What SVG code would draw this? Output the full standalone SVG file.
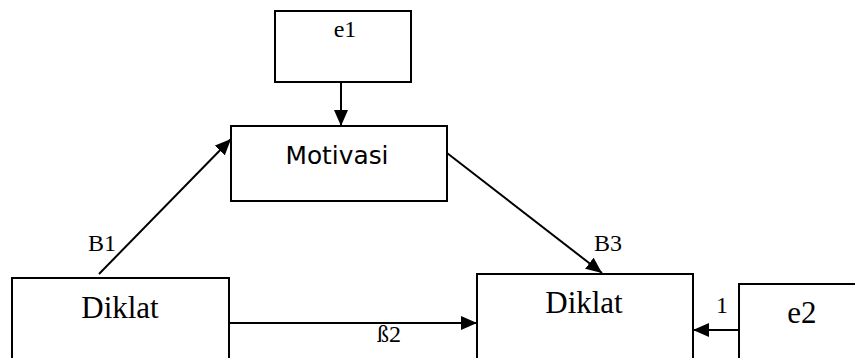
<svg xmlns="http://www.w3.org/2000/svg" width="855" height="358" viewBox="0 0 855 358">
<style>
.box{fill:#fff;stroke:#000;stroke-width:2}
.ln{stroke:#000;stroke-width:2;fill:none;marker-end:url(#ah)}
.serif{font-family:"Liberation Serif","Times New Roman",serif;fill:#000}
.sans{font-family:"DejaVu Sans",Verdana,sans-serif;fill:#000}
</style>
<defs>
<marker id="ah" markerUnits="userSpaceOnUse" markerWidth="16" markerHeight="14" viewBox="0 0 16 14" refX="16" refY="7" orient="auto">
<path d="M0,0 L16,7 L0,14 z" fill="#000"/>
</marker>
</defs>
<rect width="855" height="358" fill="#fff"/>
<g id="connectors">
<line class="ln" x1="341" y1="82" x2="341" y2="126"/>
<line class="ln" x1="99" y1="274" x2="231" y2="139"/>
<line class="ln" x1="447" y1="153" x2="602" y2="273"/>
<line class="ln" x1="229" y1="323" x2="477" y2="323"/>
<line class="ln" x1="739" y1="330" x2="693" y2="330"/>
</g>
<g id="e1">
<rect class="box" x="275" y="11" width="136" height="71"/>
<text class="serif" x="345" y="37" font-size="24" text-anchor="middle">e1</text>
</g>
<g id="motivasi">
<rect class="box" x="231" y="126" width="216" height="75"/>
<text class="sans" x="337" y="164" font-size="24" text-anchor="middle" textLength="103" lengthAdjust="spacingAndGlyphs">Motivasi</text>
</g>
<g id="diklat1">
<rect class="box" x="12" y="278" width="217" height="100"/>
<text class="serif" x="120" y="318" font-size="31" text-anchor="middle">Diklat</text>
</g>
<g id="diklat2">
<rect class="box" x="477" y="274" width="216" height="100"/>
<text class="serif" x="584" y="313" font-size="31" text-anchor="middle">Diklat</text>
</g>
<g id="e2">
<rect class="box" x="739" y="284" width="130" height="100"/>
<text class="serif" x="802" y="323" font-size="31" text-anchor="middle">e2</text>
</g>
<g id="labels">
<text class="serif" x="88" y="251" font-size="24">B1</text>
<text class="serif" x="594" y="251" font-size="24">B3</text>
<text class="serif" x="377" y="342" font-size="24">ß2</text>
<text class="serif" x="716" y="313" font-size="24">1</text>
</g>
</svg>
